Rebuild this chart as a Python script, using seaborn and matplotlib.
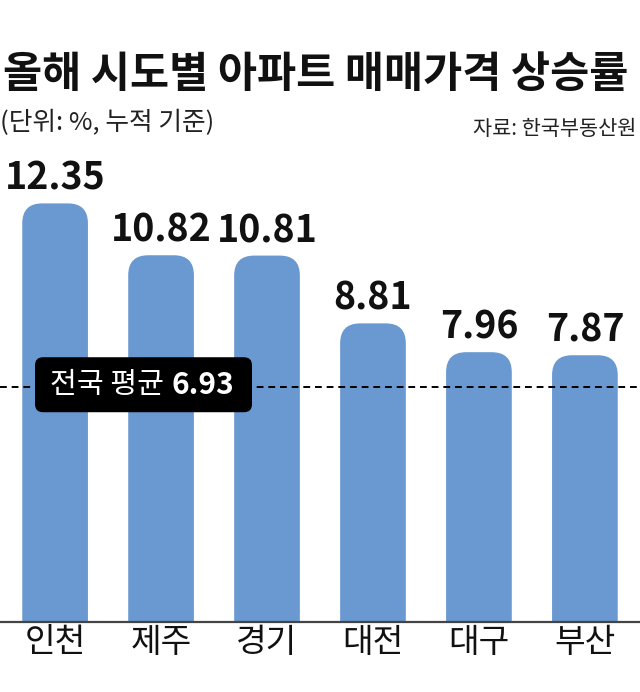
import matplotlib
matplotlib.use("Agg")
import matplotlib.pyplot as plt
import seaborn as sns
import pandas as pd
from matplotlib.patches import FancyBboxPatch
import matplotlib.transforms as mtransforms

regions = ["인천", "제주", "경기", "대전", "대구", "부산"]
values = [12.35, 10.82, 10.81, 8.81, 7.96, 7.87]
national_avg = 6.93
title = "올해 시도별 아파트 매매가격 상승률"
unit_note = "(단위: %, 누적 기준)"
source_note = "자료: 한국부동산원"
avg_label = "전국 평균"

sns.set_theme(style="white")
plt.rcParams['font.family'] = ['Noto Sans CJK KR', 'DejaVu Sans']

W, H, DPI = 640, 692, 100
fig = plt.figure(figsize=(W / DPI, H / DPI), dpi=DPI)
ax_bottom_px = 622
ax_top_px = 160
ax = fig.add_axes([0, (H - ax_bottom_px) / H, 1, (ax_bottom_px - ax_top_px) / H])

df = pd.DataFrame({"region": regions, "value": values})
bar_color = "#6a99d1"
sns.barplot(data=df, x="region", y="value", color=bar_color, width=0.62,
            saturation=1, ax=ax, zorder=2)

ymax = 13.63
ax.set_xlim(-0.52, 5.52)
ax.set_ylim(0, ymax)

# pixel scales
px_per_x = W / (5.52 + 0.52)
px_per_y = (ax_bottom_px - ax_top_px) / ymax
radius_px = 20
r_x = radius_px / px_per_x
r_y = radius_px / px_per_y

bars = list(ax.patches)
for p in bars:
    x, w, h = p.get_x(), p.get_width(), p.get_height()
    p.remove()
    fb = FancyBboxPatch((x, -r_y * 2), w, h + r_y * 2,
                        boxstyle=f"round,pad=0,rounding_size={r_x}",
                        mutation_aspect=r_y / r_x,
                        facecolor=bar_color, edgecolor="none", zorder=2)
    ax.add_patch(fb)
    ax.annotate(f"{h:.2f}", (x + w / 2, h), xytext=(0, 4), textcoords="offset points",
                ha="center", va="bottom", fontsize=27, fontweight="bold", color="#111111")

# national average line
ax.axhline(national_avg, color="black", lw=1.4, ls=(0, (3.5, 2.5)), zorder=3)

# average label box (x in axes fraction, y in data)
trans = mtransforms.blended_transform_factory(ax.transAxes, ax.transData)
bx0, bx1 = 35 / W, 252 / W
bh = 55 / px_per_y
brx = 8 / W
bry = 8 / px_per_y
yc = national_avg + 0.07
box = FancyBboxPatch((bx0, yc - bh / 2), bx1 - bx0, bh,
                     boxstyle=f"round,pad=0,rounding_size={brx}",
                     mutation_aspect=bry / brx, transform=trans,
                     facecolor="black", edgecolor="none", zorder=4)
ax.add_patch(box)
ax.text(50 / W, yc, avg_label, transform=trans, ha="left", va="center",
        fontsize=21, color="white", zorder=5)
ax.text(234 / W, yc, f"{national_avg:.2f}", transform=trans, ha="right", va="center",
        fontsize=21.5, fontweight="bold", color="white", zorder=5)

# axes styling
for s in ["top", "right", "left"]:
    ax.spines[s].set_visible(False)
ax.spines["bottom"].set_color("#444444")
ax.spines["bottom"].set_linewidth(1.6)
ax.set_yticks([])
ax.set_xlabel("")
ax.set_ylabel("")
ax.tick_params(axis="x", length=0, pad=2, labelsize=24, labelcolor="#111111")

fig.text(3 / W, 1 - 74 / H, title, ha="left", va="center", fontsize=30.6,
         fontweight="heavy", color="#111111")
fig.text(0 / W, 1 - 123 / H, unit_note, ha="left", va="center", fontsize=18.5,
         fontweight="light", color="#222222")
fig.text(636 / W, 1 - 129 / H, source_note, ha="right", va="center", fontsize=15,
         color="#222222")

fig.savefig("out.png", dpi=DPI, facecolor="white")
